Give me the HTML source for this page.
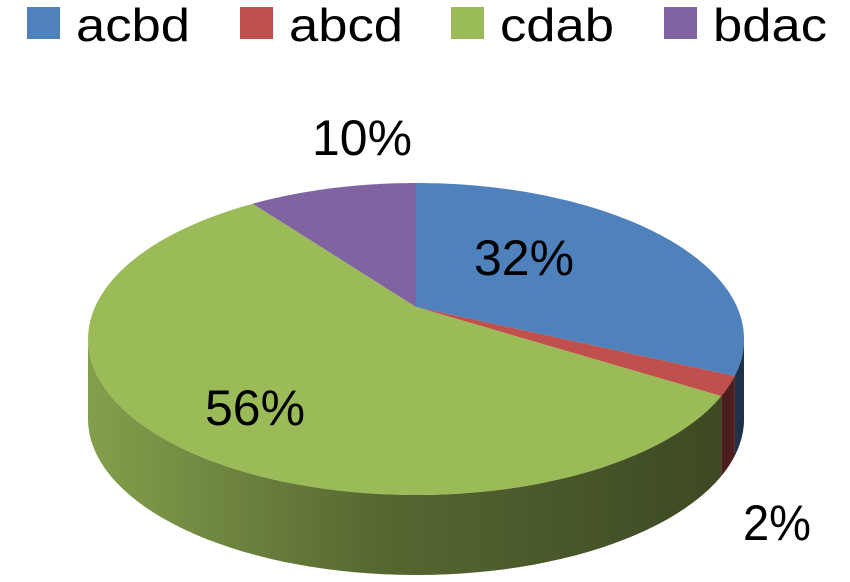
<!DOCTYPE html>
<html><head><meta charset="utf-8"><style>
html,body{margin:0;padding:0;background:#fff;}
svg{display:block;}
text{font-family:"Liberation Sans",sans-serif;fill:#000;}
</style></head><body>
<svg id="chart" width="850" height="582" viewBox="0 0 850 582" xmlns="http://www.w3.org/2000/svg">
<defs>
<linearGradient id="shade" gradientUnits="userSpaceOnUse" x1="88" y1="0" x2="744" y2="0">
<stop offset="0" stop-color="#000" stop-opacity="0.15"/>
<stop offset="0.45" stop-color="#000" stop-opacity="0.45"/>
<stop offset="1" stop-color="#000" stop-opacity="0.62"/>
</linearGradient>
</defs>
<g id="legend"></g>
<g id="sides"></g>
<g id="tops"></g>
<g id="labels"></g>
</svg>
<script>
const categories = ["acbd", "abcd", "cdab", "bdac"];
const values = [32, 2, 56, 10];
const valueLabels = ["32%", "2%", "56%", "10%"];
const colors = ["#4f81bd", "#c0504d", "#9bbb59", "#8064a2"];

const NS = "http://www.w3.org/2000/svg";
const cx = 416, cy = 339, rx = 328, ry = 156, depth = 80;
const vx = 416, vy = 307, tilt = 0.46;
const total = values.reduce((a, b) => a + b, 0);
function pt(t, dy) { return [cx + rx * Math.sin(t), cy - ry * Math.cos(t) + (dy || 0)]; }
function mk(tag, attrs, parent) {
  const e = document.createElementNS(NS, tag);
  for (const k in attrs) e.setAttribute(k, attrs[k]);
  parent.appendChild(e); return e;
}
// map data angle -> parametric ellipse angle via ray from vertex
function paramAngle(t) {
  const dx = Math.sin(t), dy = -Math.cos(t) * tilt;
  const ox = (vx - cx) / rx, oy = (vy - cy) / ry;
  const ux = dx / rx, uy = dy / ry;
  const A = ux * ux + uy * uy, B = 2 * (ox * ux + oy * uy), C = ox * ox + oy * oy - 1;
  const s = (-B + Math.sqrt(B * B - 4 * A * C)) / (2 * A);
  const x = vx + s * dx, y = vy + s * dy;
  let p = Math.atan2((x - cx) / rx, -(y - cy) / ry);
  if (p < 0) p += 2 * Math.PI;
  return p;
}

// legend
const legend = document.getElementById("legend");
const legX = [27, 240, 451, 664];
categories.forEach((c, i) => {
  const g = mk("g", {}, legend);
  
  
  const r = mk("rect", {x: legX[i], y: 7, width: 33, height: 32, fill: colors[i]}, g);
  
  
  const t = mk("text", {x: legX[i] + 49, y: 41, "font-size": 46, textLength: 114, lengthAdjust: "spacingAndGlyphs"}, g);
  t.textContent = c;
  
  
});

const sides = document.getElementById("sides");
const tops = document.getElementById("tops");
let acc = 0;
const angles = values.map(v => {
  const a0 = acc / total * 2 * Math.PI; acc += v;
  const a1 = acc / total * 2 * Math.PI;
  let p0 = paramAngle(a0), p1 = paramAngle(a1);
  if (a0 === 0) p0 = 0;
  if (Math.abs(a1 - 2 * Math.PI) < 1e-9) p1 = 2 * Math.PI;
  if (p1 < p0) p1 += 2 * Math.PI;
  return [p0, p1];
});

function arcPath(a0, a1, dy, steps) {
  let d = [];
  for (let k = 0; k <= steps; k++) { const t = a0 + (a1 - a0) * k / steps; d.push(pt(t, dy)); }
  return d;
}
angles.forEach(([a0, a1], i) => {
  const s0 = Math.max(a0, Math.PI / 2), s1 = Math.min(a1, 3 * Math.PI / 2);
  if (s1 > s0) {
    const up = arcPath(s0, s1, 0, 60), dn = arcPath(s1, s0, depth, 60);
    const d = "M" + up.concat(dn).map(p => p[0].toFixed(1) + "," + p[1].toFixed(1)).join("L") + "Z";
    const p = mk("path", {d: d, fill: colors[i]}, sides);
    
    
    const o = mk("path", {d: d, fill: "url(#shade)"}, sides);
    
    
  }
  const pts = arcPath(a0, a1, 0, 120);
  const d = "M" + vx + "," + vy + "L" + pts.map(p => p[0].toFixed(1) + "," + p[1].toFixed(1)).join("L") + "Z";
  const p = mk("path", {d: d, fill: colors[i]}, tops);
  
  
});

const labels = document.getElementById("labels");
const labelPos = [[524, 275], [777, 540], [255, 425], [362, 155]];
valueLabels.forEach((l, i) => {
  const t = mk("text", {x: labelPos[i][0], y: labelPos[i][1], "font-size": 50, "text-anchor": "middle", textLength: l.length === 2 ? 68 : 100, lengthAdjust: "spacingAndGlyphs"}, labels);
  t.textContent = l;
  
  
});
</script>
</body></html>
